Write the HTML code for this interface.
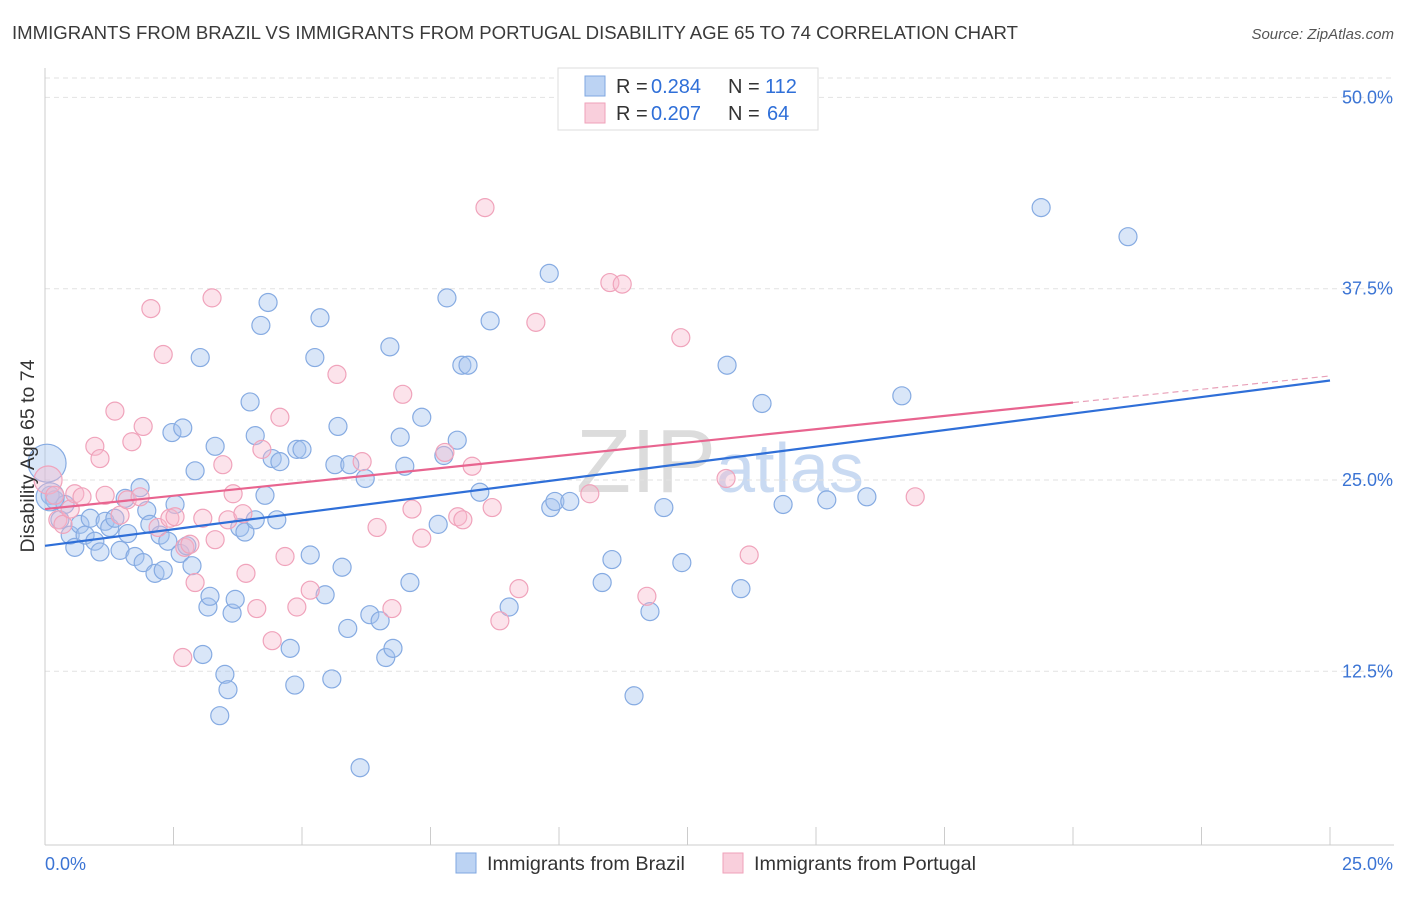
<!DOCTYPE html>
<html><head><meta charset="utf-8"><style>
body{margin:0;background:#fff;font-family:"Liberation Sans",sans-serif;}
svg text{font-family:"Liberation Sans",sans-serif;}
</style></head><body>
<svg id="chart" width="1406" height="892" viewBox="0 0 1406 892" xmlns="http://www.w3.org/2000/svg">
<text x="12" y="39" font-size="18.6" fill="#3a3a3a">IMMIGRANTS FROM BRAZIL VS IMMIGRANTS FROM PORTUGAL DISABILITY AGE 65 TO 74 CORRELATION CHART</text>
<text x="1394" y="39" font-size="15" fill="#555" font-style="italic" text-anchor="end">Source: ZipAtlas.com</text>
<text x="720" y="492" font-size="90" fill="#e4e8ee" text-anchor="middle" font-family="Liberation Serif"><tspan fill="#dcdcdc">ZIP</tspan><tspan font-size="70" fill="#c9daf2" font-family="Liberation Sans">atlas</tspan></text>
<g id="grid"></g>
<g id="axes"></g>
<g id="points"></g>
<g id="lines"></g>
<text transform="translate(34,456) rotate(-90)" font-size="19.5" fill="#333" text-anchor="middle">Disability Age 65 to 74</text>
<g>
<rect x="558" y="68" width="260" height="62" fill="#fff" stroke="#ddd"/>
<rect x="585" y="76" width="20" height="20" fill="#bcd3f3" stroke="#7fa7e0"/>
<rect x="585" y="103" width="20" height="20" fill="#f9cfdc" stroke="#efa2ba"/>
<text x="616" y="93" font-size="20" fill="#333">R =</text>
<text x="651" y="93" font-size="20" fill="#2f6fd8">0.284</text>
<text x="728" y="93" font-size="20" fill="#333">N =</text>
<text x="765" y="93" font-size="20" fill="#2f6fd8">112</text>
<text x="616" y="120" font-size="20" fill="#333">R =</text>
<text x="651" y="120" font-size="20" fill="#2f6fd8">0.207</text>
<text x="728" y="120" font-size="20" fill="#333">N =</text>
<text x="767" y="120" font-size="20" fill="#2f6fd8">64</text>
</g>
<g>
<rect x="456" y="853" width="20" height="20" fill="#bcd3f3" stroke="#7fa7e0"/>
<text x="487" y="870" font-size="19.8" fill="#333">Immigrants from Brazil</text>
<rect x="723" y="853" width="20" height="20" fill="#f9cfdc" stroke="#efa2ba"/>
<text x="754" y="870" font-size="19.8" fill="#333">Immigrants from Portugal</text>
</g>
</svg>
<script>
const xTicks=[0,2.5,5,7.5,10,12.5,15,17.5,20,22.5,25];
const yTicks=[12.5,25,37.5,50];
const yTickLabels=["12.5%","25.0%","37.5%","50.0%"];
const xEndLabels=["0.0%","25.0%"];
const brazilX=[0.10,0.19,0.29,0.39,0.49,0.58,0.68,0.78,0.88,0.97,1.07,1.17,1.26,1.36,1.46,1.56,1.61,1.75,1.85,1.91,1.98,2.04,2.14,2.24,2.30,2.39,2.47,2.53,2.63,2.68,2.76,2.86,2.92,3.02,3.07,3.17,3.21,3.31,3.50,3.56,3.40,3.64,3.70,3.79,3.89,3.99,4.09,4.09,4.20,4.28,4.34,4.42,4.51,4.57,4.77,4.86,4.90,5.00,5.16,5.25,5.35,5.45,5.58,5.64,5.70,5.78,5.89,5.93,6.13,6.23,6.32,6.52,6.63,6.71,6.77,6.91,7.00,7.10,7.33,7.65,7.76,7.82,8.02,8.11,8.23,8.46,8.66,9.03,9.81,9.84,9.92,10.21,10.84,11.03,11.46,11.77,12.04,12.39,13.27,13.54,13.95,14.36,15.21,15.99,16.67,19.38,21.07,0.04,0.10];
const brazilY=[24.0,23.7,22.4,23.4,21.4,20.6,22.1,21.4,22.5,21.0,20.3,22.3,21.9,22.5,20.4,23.8,21.5,20.0,24.5,19.6,23.0,22.1,18.9,21.4,19.1,21.0,28.1,23.4,20.2,28.4,20.7,19.4,25.6,33.0,13.6,16.7,17.4,27.2,12.3,11.3,9.6,16.3,17.2,21.9,21.6,30.1,27.9,22.4,35.1,24.0,36.6,26.4,22.4,26.2,14.0,11.6,27.0,27.0,20.1,33.0,35.6,17.5,12.0,26.0,28.5,19.3,15.3,26.0,6.2,25.1,16.2,15.8,13.4,33.7,14.0,27.8,25.9,18.3,29.1,22.1,26.6,36.9,27.6,32.5,32.5,24.2,35.4,16.7,38.5,23.2,23.6,23.6,18.3,19.8,10.9,16.4,23.2,19.6,32.5,17.9,30.0,23.4,23.7,23.9,30.5,42.8,40.9,26.1,23.9];
const brazilR=[9,9,9,9,9,9,9,9,9,9,9,9,9,9,9,9,9,9,9,9,9,9,9,9,9,9,9,9,9,9,9,9,9,9,9,9,9,9,9,9,9,9,9,9,9,9,9,9,9,9,9,9,9,9,9,9,9,9,9,9,9,9,9,9,9,9,9,9,9,9,9,9,9,9,9,9,9,9,9,9,9,9,9,9,9,9,9,9,9,9,9,9,9,9,9,9,9,9,9,9,9,9,9,9,9,9,9,19,14];
const portX=[0.06,0.19,0.25,0.35,0.49,0.58,0.72,0.97,1.07,1.17,1.36,1.46,1.60,1.69,1.85,1.91,2.06,2.20,2.30,2.43,2.53,2.68,2.72,2.82,2.92,3.07,3.25,3.31,3.46,3.56,3.66,3.85,3.91,4.12,4.22,4.42,4.57,4.67,4.90,5.16,5.68,6.17,6.46,6.75,6.96,7.14,7.33,7.78,8.03,8.13,8.31,8.56,8.70,8.85,9.22,9.55,10.60,10.99,11.23,11.71,12.37,13.25,13.70,16.93];
const portY=[25.0,24.0,22.4,22.1,23.1,24.1,23.9,27.2,26.4,24.0,29.5,22.7,23.7,27.5,23.9,28.5,36.2,21.9,33.2,22.5,22.6,13.4,20.6,20.8,18.3,22.5,36.9,21.1,26.0,22.4,24.1,22.8,18.9,16.6,27.0,14.5,29.1,20.0,16.7,17.8,31.9,26.2,21.9,16.6,30.6,23.1,21.2,26.8,22.6,22.4,25.9,42.8,23.2,15.8,17.9,35.3,24.1,37.9,37.8,17.4,34.3,25.1,20.1,23.9];
const trendBrazil=[20.7,31.5];
const trendPort=[23.1,31.8];
const portSolidEnd=20;

const NS="http://www.w3.org/2000/svg";
const X0=45,X1=1330,Y0=862.6,PX=191.3/12.5;
const sx=v=>X0+(X1-X0)*v/25;
const sy=v=>Y0-v*PX;
function mk(tag,attrs,parent){const e=document.createElementNS(NS,tag);for(const k in attrs)e.setAttribute(k,attrs[k]);parent.appendChild(e);return e;}
const grid=document.getElementById('grid'),axes=document.getElementById('axes'),pts=document.getElementById('points'),lines=document.getElementById('lines');
mk('line',{x1:X0,x2:1394,y1:78,y2:78,stroke:'#e2e2e2','stroke-dasharray':'5,4'},grid);
yTicks.forEach((t,i)=>{
 const g=mk('line',{x1:X0,x2:1394,y1:sy(t),y2:sy(t),stroke:'#e2e2e2','stroke-dasharray':'5,4'},grid);
 
 
 const tx=mk('text',{x:1393,y:sy(t)+6,'font-size':18,fill:'#3b74d4','text-anchor':'end'},axes);
 tx.textContent=yTickLabels[i];
 
 
});
mk('line',{x1:X0,x2:X0,y1:68,y2:845,stroke:'#ccc'},axes);
mk('line',{x1:X0,x2:1394,y1:845,y2:845,stroke:'#ccc'},axes);
xTicks.forEach(t=>{
 const l=mk('line',{x1:sx(t),x2:sx(t),y1:827,y2:845,stroke:'#ccc'},axes);
 
 
});
[[0,'start',45],[25,'end',1393]].forEach((a,i)=>{
 const tx=mk('text',{x:a[2],y:870,'font-size':18,fill:'#3b74d4','text-anchor':a[1]},axes);
 tx.textContent=xEndLabels[i];
 
 
});
brazilX.forEach((x,i)=>{
 const c=mk('circle',{cx:sx(x),cy:sy(brazilY[i]),r:brazilR[i],fill:'rgba(165,195,238,0.42)',stroke:'#86abe2','stroke-width':1.2},pts);
 
 
});
portX.forEach((x,i)=>{
 const c=mk('circle',{cx:sx(x),cy:sy(portY[i]),r:i===0?14:9,fill:'rgba(247,185,205,0.4)',stroke:'#f0a3bb','stroke-width':1.2},pts);
 
 
});
const bl=mk('line',{x1:sx(0),y1:sy(trendBrazil[0]),x2:sx(25),y2:sy(trendBrazil[1]),stroke:'#2f6fd8','stroke-width':2.2},lines);


const pm=trendPort[0]+(trendPort[1]-trendPort[0])*portSolidEnd/25;
const pl=mk('line',{x1:sx(0),y1:sy(trendPort[0]),x2:sx(portSolidEnd),y2:sy(pm),stroke:'#e8648f','stroke-width':2.2},lines);


const pd=mk('line',{x1:sx(portSolidEnd),y1:sy(pm),x2:sx(25),y2:sy(trendPort[1]),stroke:'#e8a0b8','stroke-width':1.2,'stroke-dasharray':'6,4'},lines);


</script>
</body></html>
